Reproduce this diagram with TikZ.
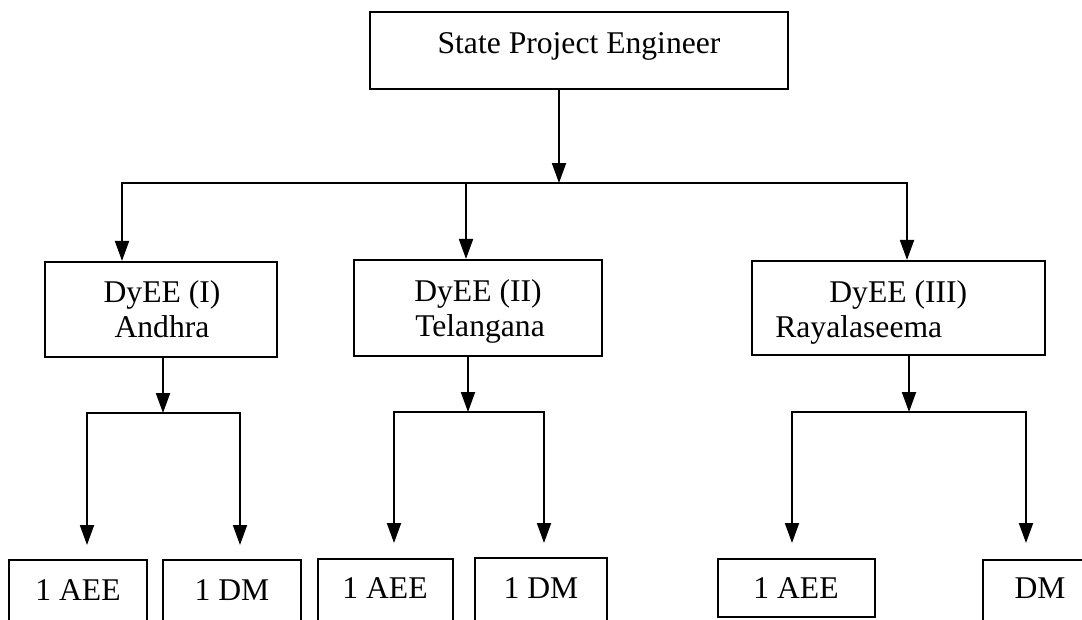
\documentclass[tikz,border=0pt]{standalone}
\usepackage{fontspec}
\setmainfont{Liberation Serif}
\usetikzlibrary{arrows.meta,fit}
\begin{document}
\begin{tikzpicture}[x=0.02cm, y=-0.02cm,
  box/.style={draw, line width=1.2pt, inner sep=0pt},
  lbl/.style={anchor=base, inner sep=0pt, font=\fontsize{18}{21.6}\selectfont},
  wire/.style={line width=1.1pt, line cap=rect},
  arr/.style={line width=1.1pt, -{Triangle[length=0.4cm, width=0.28cm]}}]
\useasboundingbox (0,0) rectangle (1082,619);
\clip (0,0) rectangle (1082,619);

% ---- boxes ----
\node[box, fit={(370,12) (788,89)}] (spe) {};
\node[box, fit={(45,262) (277,357)}] (d1) {};
\node[box, fit={(354,260) (602,356)}] (d2) {};
\node[box, fit={(752,261) (1045,355)}] (d3) {};
\node[box, fit={(9,560) (147,640)}] (a1) {};
\node[box, fit={(163,560) (301,640)}] (m1) {};
\node[box, fit={(318,559) (453,640)}] (a2) {};
\node[box, fit={(475,558) (607,640)}] (m2) {};
\node[box, fit={(718,559) (875,617)}] (a3) {};
\node[box, fit={(983,560) (1100,640)}] (m3) {};

% ---- labels ----
\node[lbl] (tspe) at (579,53) {State Project Engineer};
\node[lbl] (td1a) at (162,302) {DyEE (I)};
\node[lbl] (td1b) at (162,337) {Andhra};
\node[lbl] (td2a) at (478,301) {DyEE (II)};
\node[lbl] (td2b) at (480,336) {Telangana};
\node[lbl, anchor=base west] (td3a) at (829,302) {DyEE (III)};
\node[lbl, anchor=base west] (td3b) at (775,337) {Rayalaseema};
\node[lbl] (ta1) at (78,600) {1 AEE};
\node[lbl] (tm1) at (232,600) {1 DM};
\node[lbl] (ta2) at (385,598) {1 AEE};
\node[lbl] (tm2) at (541,598) {1 DM};
\node[lbl] (ta3) at (796,598) {1 AEE};
\node[lbl] (tm3) at (1040,598) {DM};

% ---- top level distribution ----
\coordinate (hub) at (559,183);
\coordinate (busL) at (122,183);
\coordinate (busM) at (466,183);
\coordinate (busR) at (907,183);
\draw[arr] (hub |- spe.south) -- (hub);
\draw[wire] (busL) -- (busR);
\draw[arr] (busL) -- (busL |- d1.north);
\draw[arr] (busM) -- (busM |- d2.north);
\draw[arr] (busR) -- (busR |- d3.north);

% ---- Andhra branch ----
\coordinate (s1) at (163,413);
\coordinate (s1l) at (87,413);
\coordinate (s1r) at (240,413);
\coordinate (e1l) at (87,545);
\coordinate (e1r) at (240,545);
\draw[arr] (s1 |- d1.south) -- (s1);
\draw[wire] (s1l) -- (s1r);
\draw[arr] (s1l) -- (e1l);
\draw[arr] (s1r) -- (e1r);

% ---- Telangana branch ----
\coordinate (s2) at (468,412);
\coordinate (s2l) at (394,412);
\coordinate (s2r) at (544,412);
\coordinate (e2l) at (394,543);
\coordinate (e2r) at (544,543);
\draw[arr] (s2 |- d2.south) -- (s2);
\draw[wire] (s2l) -- (s2r);
\draw[arr] (s2l) -- (e2l);
\draw[arr] (s2r) -- (e2r);

% ---- Rayalaseema branch ----
\coordinate (s3) at (909,412);
\coordinate (s3l) at (792,412);
\coordinate (s3r) at (1026,412);
\coordinate (e3l) at (792,543);
\coordinate (e3r) at (1026,543);
\draw[arr] (s3 |- d3.south) -- (s3);
\draw[wire] (s3l) -- (s3r);
\draw[arr] (s3l) -- (e3l);
\draw[arr] (s3r) -- (e3r);
\end{tikzpicture}
\end{document}
